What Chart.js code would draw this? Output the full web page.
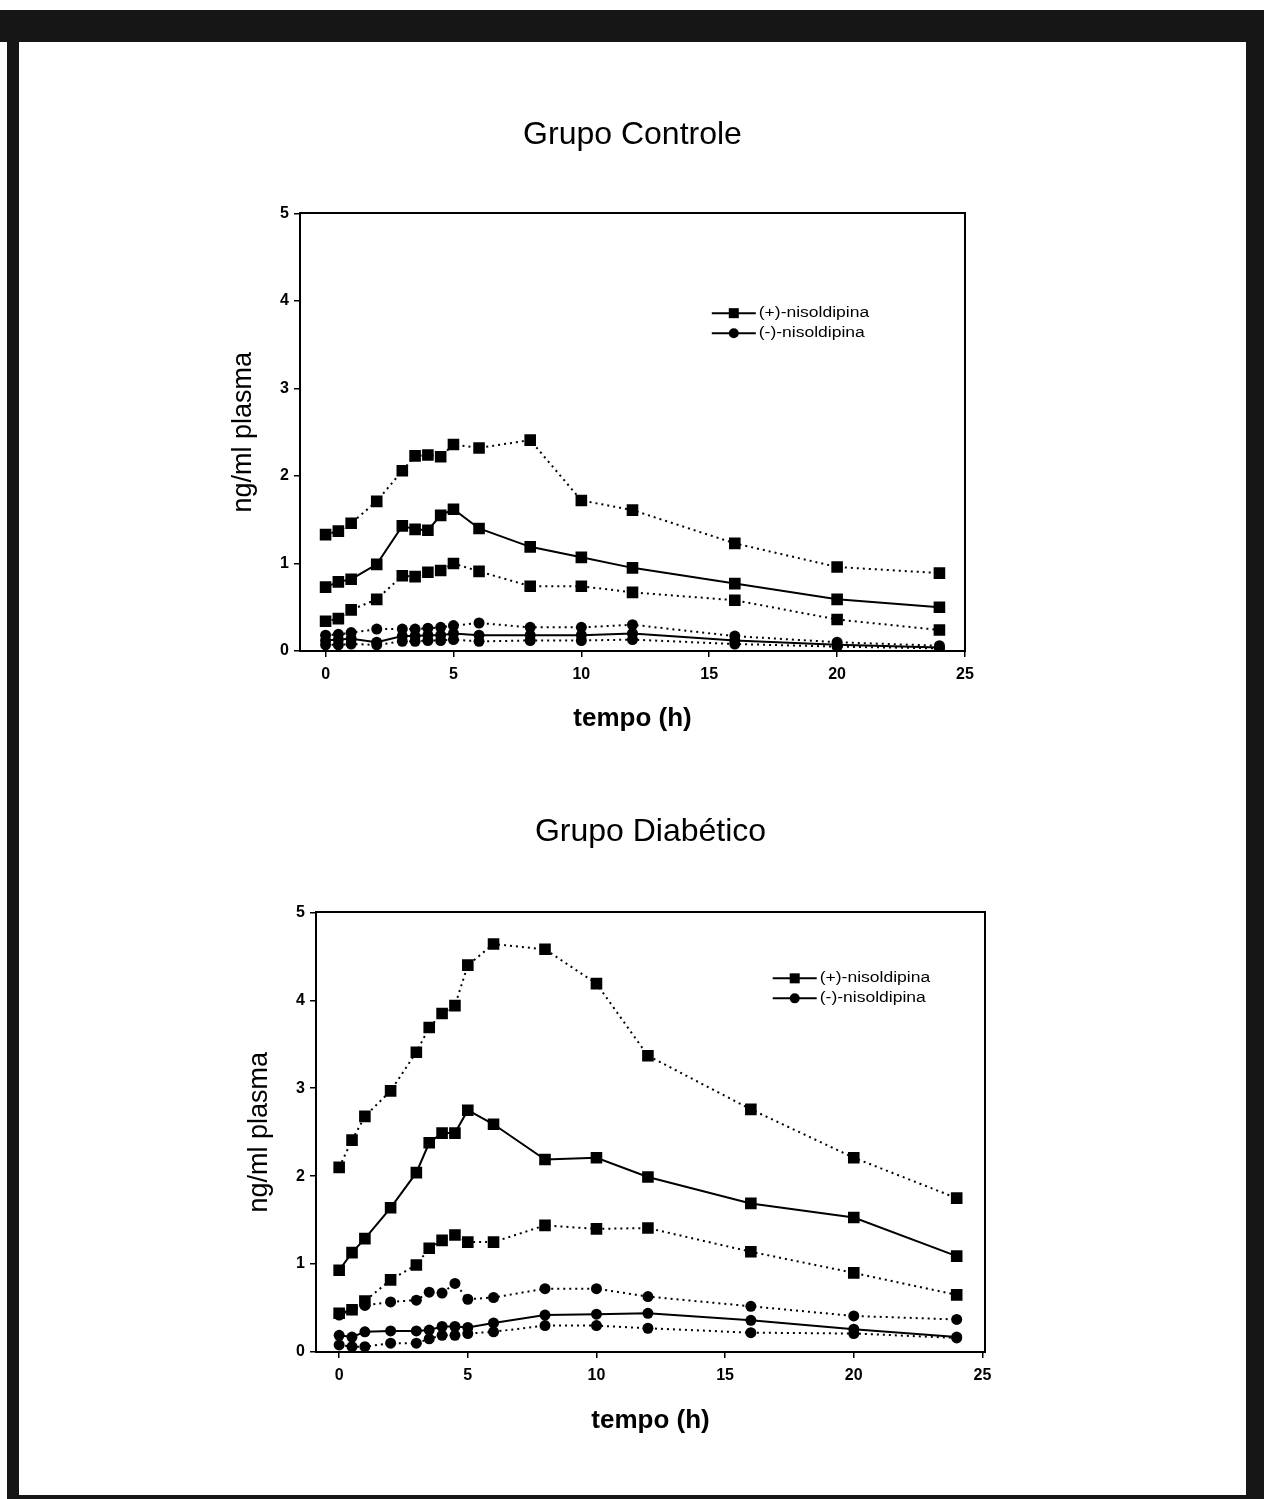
<!DOCTYPE html>
<html>
<head>
<meta charset="utf-8">
<script src="https://cdn.jsdelivr.net/npm/chart.js@4.4.1/dist/chart.umd.min.js"></script>
<style>
  html, body { margin: 0; padding: 0; background: #fff; }
  body { width: 1264px; height: 1499px; position: relative; overflow: hidden; }
  .frame { position: absolute; background: #161616; }
  canvas { position: absolute; }
  #controle { left: 200px; top: 100px; }
  #diabetico { left: 216px; top: 800px; }
</style>
</head>
<body>
<div class="frame" style="left:0;top:10px;width:1264px;height:32px"></div>
<div class="frame" style="left:7px;top:30px;width:12px;height:1469px"></div>
<div class="frame" style="left:1246px;top:30px;width:18px;height:1469px"></div>
<div class="frame" style="left:7px;top:1495px;width:1257px;height:4px"></div>

<canvas id="controle" width="865" height="660"></canvas>
<canvas id="diabetico" width="869" height="660"></canvas>

<script>
// sampling times (h)
var tempos = [0, 0.5, 1, 2, 3, 3.5, 4, 4.5, 5, 6, 8, 10, 12, 16, 20, 24]
var xTicks = [0, 5, 10, 15, 20, 25]
var yTicks = [0, 1, 2, 3, 4, 5]
var legendLabels = ['(+)-nisoldipina', '(-)-nisoldipina']

// Grupo Controle
var controlePlusAlto = [1.33, 1.37, 1.46, 1.71, 2.06, 2.23, 2.24, 2.22, 2.36, 2.32, 2.41, 1.72, 1.61, 1.23, 0.96, 0.89]
var controlePlusMedia = [0.73, 0.79, 0.82, 0.99, 1.43, 1.39, 1.38, 1.55, 1.62, 1.40, 1.19, 1.07, 0.95, 0.77, 0.59, 0.50]
var controlePlusBaixo = [0.34, 0.37, 0.47, 0.59, 0.86, 0.85, 0.90, 0.92, 1.00, 0.91, 0.74, 0.74, 0.67, 0.58, 0.36, 0.24]
var controleMinusAlto = [0.18, 0.19, 0.21, 0.25, 0.25, 0.25, 0.26, 0.27, 0.29, 0.32, 0.27, 0.27, 0.30, 0.17, 0.10, 0.06]
var controleMinusMedia = [0.12, 0.13, 0.14, 0.10, 0.17, 0.17, 0.18, 0.18, 0.20, 0.18, 0.18, 0.18, 0.20, 0.12, 0.07, 0.04]
var controleMinusBaixo = [0.07, 0.07, 0.08, 0.07, 0.11, 0.11, 0.12, 0.12, 0.13, 0.11, 0.12, 0.12, 0.13, 0.08, 0.05, 0.03]

// Grupo Diabetico
var diabPlusAlto = [2.10, 2.41, 2.68, 2.97, 3.41, 3.69, 3.85, 3.94, 4.40, 4.64, 4.58, 4.19, 3.37, 2.76, 2.21, 1.75]
var diabPlusMedia = [0.93, 1.13, 1.29, 1.64, 2.04, 2.38, 2.49, 2.49, 2.75, 2.59, 2.19, 2.21, 1.99, 1.69, 1.53, 1.09]
var diabPlusBaixo = [0.44, 0.48, 0.58, 0.82, 0.99, 1.18, 1.27, 1.33, 1.25, 1.25, 1.44, 1.40, 1.41, 1.14, 0.90, 0.65]
var diabMinusAlto = [0.42, 0.48, 0.53, 0.57, 0.59, 0.68, 0.67, 0.78, 0.60, 0.62, 0.72, 0.72, 0.63, 0.52, 0.41, 0.37]
var diabMinusMedia = [0.19, 0.17, 0.23, 0.24, 0.24, 0.25, 0.29, 0.29, 0.28, 0.33, 0.42, 0.43, 0.44, 0.36, 0.26, 0.17]
var diabMinusBaixo = [0.08, 0.06, 0.06, 0.10, 0.10, 0.15, 0.19, 0.19, 0.21, 0.23, 0.30, 0.30, 0.27, 0.22, 0.21, 0.16]

var FONT = '"Liberation Sans", Arial, Helvetica, sans-serif'
Chart.defaults.font.family = FONT
Chart.defaults.color = '#000'

function serie(values, marker, dotted) {
  return {
    data: values.map(function (v, i) { return { x: tempos[i], y: v } }),
    borderColor: '#000',
    backgroundColor: '#000',
    borderWidth: 2,
    borderDash: dotted ? [2, 4] : [],
    pointStyle: marker,
    pointRadius: marker === 'rect' ? 8.2 : 5.5,
    pointBorderWidth: 0,
    tension: 0,
  }
}

// legend drawn inside the plot, anchored at a data position
var inlineLegend = {
  id: 'inlineLegend',
  afterDraw: function (chart, args, opts) {
    var ctx = chart.ctx
    var x0 = chart.scales.x.getPixelForValue(opts.at[0])
    var y0 = chart.scales.y.getPixelForValue(opts.at[1])
    var markers = ['rect', 'circle']
    ctx.save()
    legendLabels.forEach(function (label, i) {
      var yy = y0 + i * opts.rowGap
      ctx.strokeStyle = '#000'
      ctx.lineWidth = 2
      ctx.beginPath()
      ctx.moveTo(x0, yy)
      ctx.lineTo(x0 + 44, yy)
      ctx.stroke()
      ctx.fillStyle = '#000'
      if (markers[i] === 'rect') {
        ctx.fillRect(x0 + 17, yy - 5, 10, 10)
      } else {
        ctx.beginPath()
        ctx.arc(x0 + 22, yy, 5, 0, Math.PI * 2)
        ctx.fill()
      }
      ctx.save()
      ctx.translate(x0 + 47, yy)
      ctx.scale(opts.stretch, 1)
      ctx.font = '14px ' + FONT
      ctx.textBaseline = 'middle'
      ctx.fillText(label, 0, 0)
      ctx.restore()
    })
    ctx.restore()
  },
}

function makeChart(id, cfg, sets) {
  var axisFont = { size: 16, weight: 'bold' }
  var tickGrid = {
    display: true,
    drawOnChartArea: false,
    drawTicks: true,
    tickLength: 6,
    color: '#000',
    lineWidth: 1.5,
  }
  var hiddenGrid = { display: true, drawOnChartArea: false, drawTicks: false }
  var border = { display: true, color: '#000', width: 2 }

  return new Chart(document.getElementById(id), {
    type: 'line',
    data: {
      datasets: [
        serie(sets[0], 'rect', true),
        serie(sets[1], 'rect', false),
        serie(sets[2], 'rect', true),
        serie(sets[3], 'circle', true),
        serie(sets[4], 'circle', false),
        serie(sets[5], 'circle', true),
      ],
    },
    options: {
      responsive: false,
      animation: false,
      layout: { padding: 0 },
      plugins: {
        legend: { display: false },
        tooltip: { enabled: false },
        title: {
          display: true,
          text: cfg.title,
          font: { size: 32, weight: 'normal', lineHeight: 1.2 },
          padding: cfg.titlePad,
          color: '#000',
        },
        inlineLegend: { at: cfg.legendAt, rowGap: 20, stretch: 1.25 },
      },
      scales: {
        x: {
          type: 'linear',
          min: cfg.xMin,
          max: cfg.xMax,
          afterBuildTicks: function (s) { s.ticks = xTicks.map(function (v) { return { value: v } }) },
          afterFit: function (s) { s.height = cfg.xAxisHeight },
          ticks: { font: axisFont, padding: 8, maxRotation: 0 },
          grid: tickGrid,
          border: border,
          title: {
            display: true,
            text: 'tempo (h)',
            font: { size: 26, weight: 'bold', lineHeight: 1.2 },
            padding: { top: 0, bottom: cfg.xTitlePad },
          },
        },
        y: {
          min: 0,
          max: 5,
          afterBuildTicks: function (s) { s.ticks = yTicks.map(function (v) { return { value: v } }) },
          afterFit: function (s) { s.width = 100 },
          ticks: { font: axisFont, padding: 5 },
          grid: tickGrid,
          border: border,
          title: {
            display: true,
            text: 'ng/ml plasma',
            font: { size: 27, weight: 'normal', lineHeight: 1.2 },
            padding: { top: 27, bottom: 0 },
          },
        },
        xTop: {
          type: 'linear',
          position: 'top',
          min: cfg.xMin,
          max: cfg.xMax,
          afterFit: function (s) { s.height = 0 },
          ticks: { display: false },
          grid: hiddenGrid,
          border: border,
        },
        yRight: {
          position: 'right',
          min: 0,
          max: 5,
          afterFit: function (s) { s.width = 100 },
          ticks: { display: false },
          grid: hiddenGrid,
          border: border,
        },
      },
    },
    plugins: [inlineLegend],
  })
}

makeChart('controle', {
  title: 'Grupo Controle',
  titlePad: { top: 16, bottom: 59 },
  xMin: -1,
  xMax: 25,
  xAxisHeight: 109,
  xTitlePad: 26,
  legendAt: [15.1, 3.86],
}, [controlePlusAlto, controlePlusMedia, controlePlusBaixo, controleMinusAlto, controleMinusMedia, controleMinusBaixo])

makeChart('diabetico', {
  title: 'Grupo Diabético',
  titlePad: { top: 13, bottom: 61 },
  xMin: -0.9,
  xMax: 25.1,
  xAxisHeight: 108,
  xTitlePad: 24,
  legendAt: [16.85, 4.25],
}, [diabPlusAlto, diabPlusMedia, diabPlusBaixo, diabMinusAlto, diabMinusMedia, diabMinusBaixo])
</script>
</body>
</html>
